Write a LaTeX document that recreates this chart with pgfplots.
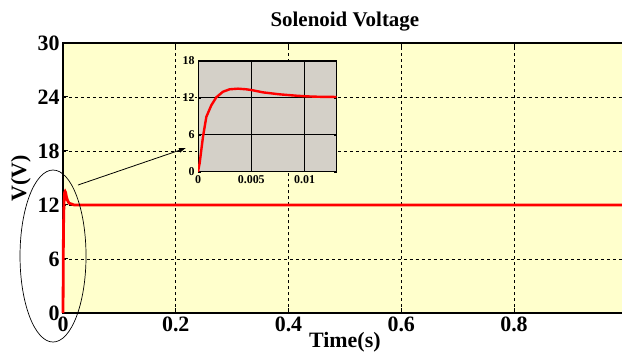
\documentclass[border=0pt]{standalone}
\usepackage{fontspec}
\setmainfont{Liberation Serif}
\usepackage{pgfplots}
\usepackage{pgfplotstable}
\pgfplotsset{compat=1.18}
\usetikzlibrary{arrows.meta}
\definecolor{bgy}{HTML}{FFFFCC}
\definecolor{insetgray}{HTML}{D4D0C8}

\pgfplotstableread{
t v
0 0
0.000156 1.4
0.00047 5.7
0.00078 8.9
0.00125 10.8
0.00172 12.1
0.00234 13.0
0.00297 13.4
0.00375 13.5
0.00453 13.4
0.005 13.28
0.0061 12.9
0.00766 12.58
0.00922 12.36
0.0102 12.25
0.0114 12.18
0.013 12.15
}\insetdata

\pgfplotstableread{
t v
0 0
0.000156 1.4
0.00047 5.7
0.00078 8.9
0.00125 10.8
0.00172 12.1
0.00234 13.0
0.00297 13.4
0.00375 13.5
0.00453 13.4
0.005 13.28
0.0061 12.9
0.00766 12.58
0.00922 12.36
0.0102 12.25
0.0114 12.18
0.013 12.15
0.02 12.0
1 12.0
}\maindata

\begin{document}
\begin{tikzpicture}
\begin{axis}[name=main, at={(0,0)}, anchor=south west,
  scale only axis, width=563.75bp, height=270bp,
  xmin=0, xmax=1, ymin=0, ymax=30,
  xtick={0,0.2,0.4,0.6,0.8}, ytick={0,6,...,30},
  axis background/.style={fill=bgy},
  grid=major, grid style={dashed, black, line width=0.6bp},
  axis line style={line width=2bp},
  tick style={black, line width=1bp}, tick align=inside, major tick length=5bp,
  title={Solenoid Voltage},
  title style={font=\fontsize{21}{21}\selectfont\bfseries, yshift=2bp},
  xlabel={Time(s)}, ylabel={V(V)},
  label style={font=\fontsize{22}{22}\selectfont\bfseries},
  xlabel style={yshift=6bp},
  ticklabel style={font=\fontsize{22}{22}\selectfont\bfseries},
  /pgf/number format/assume math mode=true,
  xticklabel style={/pgf/number format/fixed},
  clip=false]
\addplot[red, line width=2.8bp] table[x=t, y=v] {\maindata};
\draw[line width=0.7bp] (axis cs:-0.0177,6.33) ellipse [x radius=33bp, y radius=86bp];
\draw[line width=0.8bp, -{Latex[length=7bp, width=5bp]}] (axis cs:0.0266,14.22) -- (axis cs:0.2182,18.33);
\end{axis}
\begin{axis}[at={(135bp,141.3bp)}, anchor=south west,
  scale only axis, width=138.5bp, height=110.7bp,
  xmin=0, xmax=0.013, ymin=0, ymax=18,
  xtick={0,0.005,0.01}, ytick={0,6,12,18},
  axis background/.style={fill=insetgray},
  grid=major, grid style={solid, black, line width=0.8bp},
  axis line style={line width=1bp},
  tick style={black}, tick align=inside, major tick length=3bp,
  ticklabel style={font=\fontsize{12}{12}\selectfont\bfseries},
  /pgf/number format/assume math mode=true,
  scaled x ticks=false,
  xticklabel style={/pgf/number format/.cd, fixed, precision=3}]
\addplot[red, line width=2.4bp] table[x=t, y=v] {\insetdata};
\end{axis}
\pgfresetboundingbox
\path[use as bounding box] ([shift={(-63bp,-45bp)}]main.south west) rectangle ([shift={(-4.75bp,43bp)}]main.north east);
\end{tikzpicture}
\end{document}
